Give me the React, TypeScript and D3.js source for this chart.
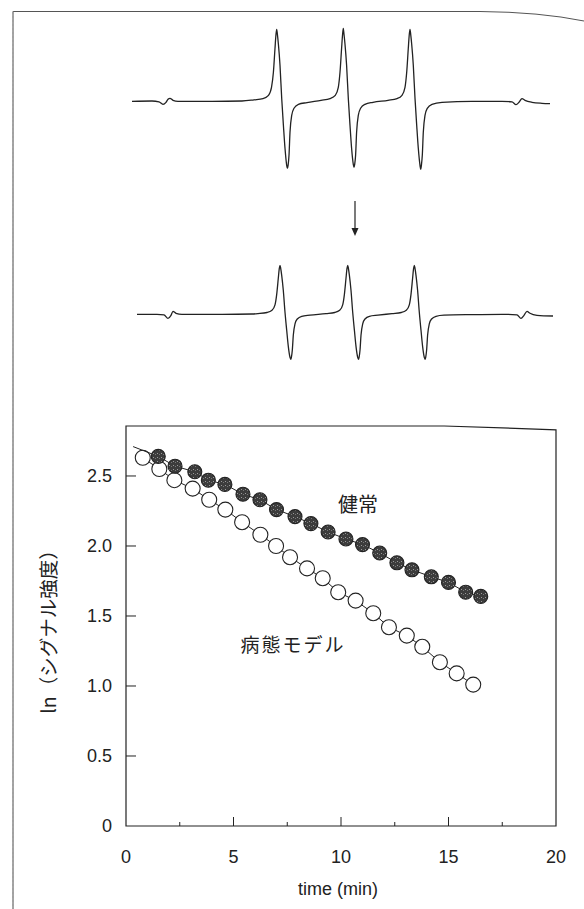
import React from 'react'
import * as d3 from 'd3'

// ESR spectra: [field (a.u.), signal (a.u.)]
const spectrumBefore: [number, number][] = [
  [0, 0], [20, 0.3], [27, -0.5], [31, -3], [34, -1], [36, 2], [38, 3], [41, 1], [46, 0], [80, 0], [110, 0.3],
  [122, 1.5], [131, 2.7], [136.5, 6], [139.5, 14], [141.4, 29], [143, 53], [144, 67], [144.7, 72], [145.4, 67],
  [146.4, 57], [148, 36], [149.7, 3], [151.4, -24], [153, -47], [154.7, -64], [155.4, -67], [156.1, -64],
  [157, -54], [158, -31], [159.7, -14], [162, -7], [166.4, -3], [175, -1.3],
  [189, 1], [198, 2.7], [203.3, 6], [206.3, 14], [208, 29], [209.6, 53], [210.6, 67], [211.3, 73], [212, 67],
  [213, 57], [214.6, 36], [216.3, 3], [218, -24], [219.6, -47], [221.3, -63], [222, -66], [222.7, -63],
  [223.6, -54], [224.6, -31], [226.3, -14], [228.6, -7], [233, -3], [241, -1],
  [256, 1], [265, 2.7], [270, 6], [273, 14], [274.7, 29], [276.3, 53], [277.3, 67], [278, 72], [278.7, 67],
  [279.7, 57], [281.3, 36], [283, 3], [284.7, -24], [286.3, -47], [288, -64], [288.7, -68], [289.4, -64],
  [290.3, -54], [291.3, -31], [293, -14], [295.3, -7], [300, -3], [310, -1],
  [340, 0], [370, 0], [380, -0.5], [384, -3.3], [387, -1], [390, 2.7], [393, 1], [400, -1], [410, -2], [418, -2.3]
]

const spectrumAfter: [number, number][] = [
  [5, 0], [25, 0], [32, -0.5], [36, -4], [39, -1], [41, 3], [44, 1], [50, 0], [90, 0], [120, 0.3],
  [126, 0.7], [135, 1.8], [140, 4], [143, 9.5], [144.7, 20], [146.3, 36], [147.3, 46], [148, 49], [148.7, 46],
  [149.7, 39], [151.3, 24], [153, 2], [154.7, -16], [156.3, -32], [158, -43], [158.7, -45], [159.4, -43],
  [160.3, -36], [161.3, -21], [163, -9.5], [165.3, -4.7], [169.7, -2], [178, -0.9],
  [194, 0.7], [202.7, 1.8], [207.7, 4], [210.7, 9.5], [212.4, 20], [214, 36], [215, 46], [215.7, 49], [216.4, 46],
  [217.4, 39], [219, 24], [220.7, 2], [222.4, -16], [224, -32], [225.7, -43], [226.4, -45], [227.1, -43],
  [228, -36], [229, -21], [230.7, -9.5], [233, -4.7], [237.4, -2], [246, -0.9],
  [260, 0.7], [269.3, 1.8], [274.3, 4], [277.3, 9.5], [279, 20], [280.6, 36], [281.6, 46], [282.3, 49], [283, 46],
  [284, 39], [285.6, 24], [287.3, 2], [289, -16], [290.6, -32], [292.3, -43], [293, -45], [293.7, -43],
  [294.6, -36], [295.6, -21], [297.3, -9.5], [299.6, -4.7], [304, -2], [312, -0.9],
  [340, -0.3], [370, 0], [385, -0.5], [389, -4], [392, -1], [395, 3], [398, 1], [405, -1], [421, -1.7]
]

// decay curves: time (min) and ln(signal)
const healthyTime = [1.5, 2.28, 3.2, 3.83, 4.6, 5.44, 6.23, 7.0, 7.86, 8.6, 9.4, 10.23, 11.0, 11.8, 12.6, 13.3, 14.2, 15.0, 15.8, 16.5]
const healthyLn = [2.64, 2.57, 2.53, 2.47, 2.44, 2.37, 2.33, 2.26, 2.21, 2.16, 2.10, 2.05, 2.01, 1.95, 1.88, 1.83, 1.78, 1.74, 1.67, 1.64]
const healthyLineStart: [number, number] = [0.33, 2.71]

const modelTime = [0.78, 1.55, 2.25, 3.1, 3.87, 4.62, 5.4, 6.25, 6.98, 7.63, 8.42, 9.15, 9.87, 10.68, 11.5, 12.23, 13.06, 13.78, 14.6, 15.38, 16.15]
const modelLn = [2.63, 2.55, 2.47, 2.41, 2.33, 2.26, 2.17, 2.08, 2.0, 1.92, 1.84, 1.77, 1.67, 1.61, 1.52, 1.42, 1.36, 1.28, 1.17, 1.09, 1.01]

const xMajorTicks = [0, 5, 10, 15, 20]
const xMinorTicks = [2.5, 7.5, 12.5, 17.5]
const yTicks = [0, 0.5, 1.0, 1.5, 2.0, 2.5]

const numFont = '"Liberation Sans", Arial, sans-serif'
const cjkFont = '"Noto Sans CJK JP", "Noto Sans", sans-serif'

export default function App() {
  const W = 584
  const H = 909

  const field = d3.scaleLinear().domain([0, 418]).range([132, 550])
  const topSig = d3.scaleLinear().domain([-80, 80]).range([181.3, 21.3])
  const botSig = d3.scaleLinear().domain([-80, 80]).range([394.3, 234.3])
  const topLine = d3.line<[number, number]>().x(d => field(d[0])).y(d => topSig(d[1])).curve(d3.curveMonotoneX)
  const botLine = d3.line<[number, number]>().x(d => field(d[0])).y(d => botSig(d[1])).curve(d3.curveMonotoneX)

  const x = d3.scaleLinear().domain([0, 20]).range([126, 556])
  const y = d3.scaleLinear().domain([0, 2.857]).range([826, 426])

  const healthy = healthyTime.map((t, i) => [t, healthyLn[i]] as [number, number])
  const model = modelTime.map((t, i) => [t, modelLn[i]] as [number, number])
  const dataLine = d3.line<[number, number]>().x(d => x(d[0])).y(d => y(d[1]))

  const frameTop = `M${x(0)},${y(0)} L${x(0)},${y(2.857)} L${x(14.8)},${y(2.857)} L${x(20)},${y(2.83)} L${x(20)},${y(0)} Z`

  return (
    <div style={{ position: 'fixed', left: 0, top: 0, width: W, height: H, background: '#fff' }}>
      <svg width={W} height={H} viewBox={`0 0 ${W} ${H}`} style={{ display: 'block' }}>
        <defs>
          <pattern id="speckle" width="4" height="4" patternUnits="userSpaceOnUse">
            <rect width="4" height="4" fill="#3c3c3c" />
            <rect x="1" y="1" width="1" height="1" fill="#9a9a9a" />
            <rect x="3" y="2" width="1" height="1" fill="#777" />
          </pattern>
        </defs>

        {/* page frame */}
        <path d="M13,909 L13,11.5 L480,11.5 Q540,12 584,21" fill="none" stroke="#555" strokeWidth={1} />
        <line x1={13} x2={13} y1={11.5} y2={909} stroke="#999" strokeWidth={1} strokeDasharray="3 1" />

        {/* spectra */}
        <path d={topLine(spectrumBefore) || ''} fill="none" stroke="#222" strokeWidth={1.3} />
        <path d={botLine(spectrumAfter) || ''} fill="none" stroke="#222" strokeWidth={1.3} />

        {/* arrow */}
        <line x1={355} x2={355} y1={201} y2={229} stroke="#222" strokeWidth={1.2} />
        <path d="M351.5,228 L358.5,228 L355,236 Z" fill="#222" />

        {/* plot frame */}
        <path d={frameTop} fill="none" stroke="#222" strokeWidth={1.2} />

        {yTicks.map(t => (
          <g key={`y${t}`}>
            {t > 0 && <line x1={x(0)} x2={x(0) + 10} y1={y(t)} y2={y(t)} stroke="#222" strokeWidth={1} />}
            <text x={x(0) - 14} y={y(t)} dy="0.35em" textAnchor="end" fontFamily={numFont} fontSize={18} fill="#222">
              {t === 0 ? '0' : t.toFixed(1)}
            </text>
          </g>
        ))}
        {xMajorTicks.map(t => (
          <g key={`x${t}`}>
            {t > 0 && t < 20 && <line x1={x(t)} x2={x(t)} y1={y(0)} y2={y(0) - 9} stroke="#222" strokeWidth={1} />}
            <text x={x(t)} y={863} textAnchor="middle" fontFamily={numFont} fontSize={18} fill="#222">{t}</text>
          </g>
        ))}
        {xMinorTicks.map(t => (
          <line key={`m${t}`} x1={x(t)} x2={x(t)} y1={y(0)} y2={y(0) - 4} stroke="#222" strokeWidth={1} />
        ))}

        <text x={338} y={895} textAnchor="middle" fontFamily={numFont} fontSize={18} fill="#222">time (min)</text>
        <text transform={`translate(56,${627}) rotate(-90)`} textAnchor="middle" fontFamily={cjkFont} fontSize={19.5} fill="#222">
          ln（シグナル強度）
        </text>

        {/* open circles: disease model */}
        <path d={dataLine(model) || ''} fill="none" stroke="#222" strokeWidth={1} />
        {model.map((d, i) => (
          <circle key={`o${i}`} cx={x(d[0])} cy={y(d[1])} r={7.5} fill="#fff" stroke="#222" strokeWidth={1.1} />
        ))}

        {/* filled circles: healthy */}
        <path d={dataLine([healthyLineStart, ...healthy]) || ''} fill="none" stroke="#222" strokeWidth={1} />
        {healthy.map((d, i) => (
          <circle key={`f${i}`} cx={x(d[0])} cy={y(d[1])} r={7} fill="url(#speckle)" stroke="#222" strokeWidth={1.1} />
        ))}

        <text x={358} y={505} dy="0.35em" textAnchor="middle" fontFamily={cjkFont} fontSize={20} fill="#222">健常</text>
        <text x={293} y={645} dy="0.35em" textAnchor="middle" fontFamily={cjkFont} fontSize={19} letterSpacing={2} fill="#222">病態モデル</text>
      </svg>
    </div>
  )
}
